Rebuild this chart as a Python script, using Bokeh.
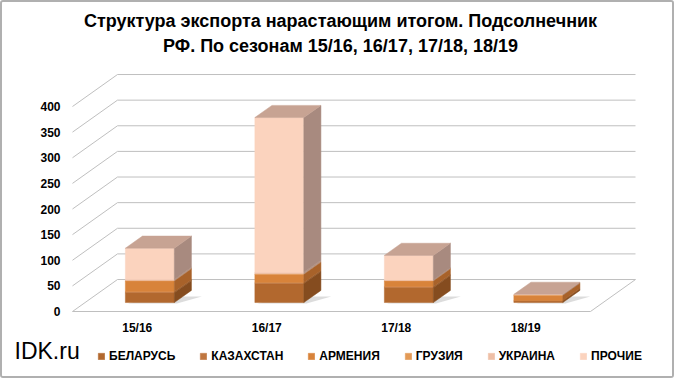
from bokeh.plotting import figure
from bokeh.models import FixedTicker, Label, Legend, LegendItem
from bokeh.embed import file_html
from bokeh.resources import INLINE

# ---------------- data ----------------
seasons = ["15/16", "16/17", "17/18", "18/19"]
series_names = ["БЕЛАРУСЬ", "КАЗАХСТАН", "АРМЕНИЯ", "ГРУЗИЯ", "УКРАИНА", "ПРОЧИЕ"]
belarus = [19, 37, 29, 3]
kazakhstan = [2, 2, 2, 1]
armenia = [21, 16, 11, 10]
georgia = [1, 1, 1, 1]
ukraine = [2, 3, 1, 0]
other = [61, 302, 48, 1]
y_ticks = [0, 50, 100, 150, 200, 250, 300, 350, 400]
title_lines = ["Структура экспорта нарастающим итогом. Подсолнечник",
               "РФ. По сезонам 15/16, 16/17, 17/18, 18/19"]
brand = "IDK.ru"

series_values = [belarus, kazakhstan, armenia, georgia, ukraine, other]

# ---------------- style ----------------
front_colors = ["#B2682E", "#BF7640", "#D8833A", "#E39A56", "#EEBFA6", "#FBD3BE"]
side_colors = ["#854C1F", "#8E5427", "#A8622A", "#B0703F", "#B39282", "#A88A7F"]
top_color = "#C7A393"
grid_color = "#BFBFBF"
FONT = "Liberation Sans"

# 3D geometry (data units)
DX = 0.3475     # depth offset along x (category units)
DY = 62.4       # depth offset along y (value units)
BAR_W = 0.378   # bar width (category units)
F0 = 0.28       # depth fraction where bar front sits
BAR_D = 0.38    # bar depth fraction
n = len(seasons)

p = figure(width=674, height=378, x_range=(-0.5405, 4.6641), y_range=(-134.63, 602.93),
           output_backend="svg", toolbar_location=None,
           min_border_left=0, min_border_right=0, min_border_top=0, min_border_bottom=0)
p.grid.visible = False
p.outline_line_color = None
p.background_fill_color = "white"
p.border_fill_color = "white"
p.styles = {"border": "2px solid #B0B0B0", "border-radius": "3px"}

# axes (fixed inside the frame, at the front plane)
p.xaxis.ticker = FixedTicker(ticks=[i + 0.5 for i in range(n)])
p.xaxis.major_label_overrides = {i + 0.5: s for i, s in enumerate(seasons)}
p.xaxis.fixed_location = -9.76
p.yaxis.ticker = FixedTicker(ticks=y_ticks)
p.yaxis.fixed_location = 0
for ax in (p.xaxis, p.yaxis):
    ax.axis_line_color = None
    ax.major_tick_line_color = None
    ax.minor_tick_line_color = None
    ax.major_tick_out = 0
    ax.major_tick_in = 0
    ax.major_label_text_font = FONT
    ax.major_label_text_font_style = "bold"
    ax.major_label_text_font_size = "12px"
    ax.major_label_text_color = "black"
p.xaxis.major_label_standoff = 4
p.yaxis.major_label_standoff = 12

# 3D grid: diagonal side lines + back wall lines
gx0, gy0, gx1, gy1 = [], [], [], []
for v in y_ticks:
    gx0 += [0, DX]
    gy0 += [v, v + DY]
    gx1 += [DX, n + DX]
    gy1 += [v + DY, v + DY]
# floor front edge and right edge
gx0 += [0, n]
gy0 += [0, 0]
gx1 += [n, n + DX]
gy1 += [0, DY]
p.segment(gx0, gy0, gx1, gy1, line_color=grid_color, line_width=1)

# shadows on floor
bdx, bdy = BAR_D * DX, BAR_D * DY
sh_xs, sh_ys = [], []
for i in range(n):
    x0 = i + 0.5 - BAR_W / 2 + F0 * DX
    x1 = x0 + BAR_W
    yo = F0 * DY
    sh_xs.append([x0 + 0.02, x1 + 0.02, x1 + bdx + 0.08, x0 + bdx + 0.08])
    sh_ys.append([yo - 2, yo - 2, yo + bdy * 0.5, yo + bdy * 0.5])
p.patches(sh_xs, sh_ys, fill_color="#9A9A9A", fill_alpha=0.35, line_color=None)

# stacked 3D bars
cum = [0.0] * n
legend_items = []
for k, vals in enumerate(series_values):
    L, R, B, T = [], [], [], []
    sxs, sys = [], []
    for i in range(n):
        val = vals[i]
        if val <= 0:
            continue
        x0 = i + 0.5 - BAR_W / 2 + F0 * DX
        x1 = x0 + BAR_W
        yo = F0 * DY
        b = yo + cum[i]
        t = b + val
        L.append(x0); R.append(x1); B.append(b); T.append(t)
        sxs.append([x1, x1 + bdx, x1 + bdx, x1])
        sys.append([b, b + bdy, t + bdy, t])
        cum[i] += val
    r = p.quad(left=L, right=R, bottom=B, top=T, fill_color=front_colors[k],
               line_color=front_colors[k], line_width=0.5)
    p.patches(sxs, sys, fill_color=side_colors[k], line_color=side_colors[k], line_width=0.5)
    legend_items.append(LegendItem(label=series_names[k], renderers=[r]))

# top faces
txs, tys = [], []
for i in range(n):
    x0 = i + 0.5 - BAR_W / 2 + F0 * DX
    x1 = x0 + BAR_W
    top = F0 * DY + cum[i]
    txs.append([x0, x1, x1 + bdx, x0 + bdx])
    tys.append([top, top, top + bdy, top + bdy])
p.patches(txs, tys, fill_color=top_color, line_color=top_color, line_width=0.5)

# legend at the bottom
legend = Legend(items=legend_items, orientation="horizontal", location=(95, 17),
                glyph_width=8, glyph_height=8, label_standoff=4, spacing=24,
                padding=0, margin=0, label_height=12,
                label_text_font=FONT, label_text_font_style="bold",
                label_text_font_size="12px", label_text_color="black",
                background_fill_alpha=0, border_line_color=None)
p.add_layout(legend, "center")

# title
p.add_layout(Label(x=2.0695, y=567.8, text=title_lines[0], text_align="center",
                   text_baseline="middle", text_font=FONT, text_font_style="bold",
                   text_font_size="18px", text_color="black"))
p.add_layout(Label(x=2.0695, y=519.0, text=title_lines[1], text_align="center",
                   text_baseline="middle", text_font=FONT, text_font_style="bold",
                   text_font_size="18px", text_color="black"))
# brand
p.add_layout(Label(x=-0.4479, y=-76.1, text=brand, text_align="left",
                   text_baseline="middle", text_font=FONT,
                   text_font_size="23px", text_color="black"))

open("out.html", "w").write(file_html(p, INLINE))
